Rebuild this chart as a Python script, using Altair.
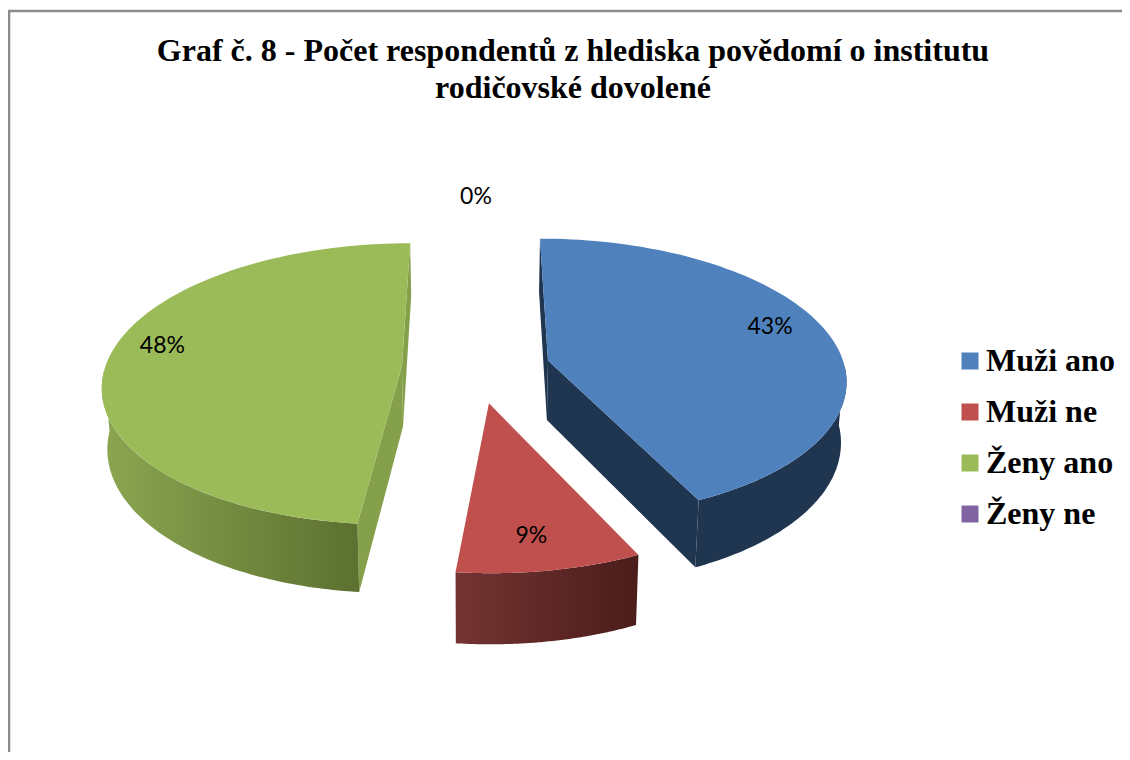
import math
import altair as alt
import pandas as pd

categories = ["Muži ano", "Muži ne", "Ženy ano", "Ženy ne"]
shares = [43, 8.6, 48.4, 0]
labels = ["43%", "9%", "48%", "0%"]
label_angles = [72, 171.5, 280, 0]
label_radii = [0.825, 0.81, 0.84, 1.206]
top_colors = ["#4f81bd", "#c0504d", "#9bbb59", "#8064a2"]
title_lines = ["Graf č. 8 - Počet respondentů z hlediska povědomí o institutu",
               "rodičovské dovolené"]

# perspective model of the tilted pie, in page pixels
X0, Y0, A, B, K, EXPLODE, DEPTH, SHRINK = 476, 368, 297, 138.9, 0.1254, 0.25, 60, 0.985
PT, PW, PH = 100, 1114, 644


def project(gx, gy, low=False):
    w = 1 + K * gy
    x, y = A * gx / w, Y0 - B * gy / w
    if low:
        return X0 + x * SHRINK, y + DEPTH / w
    return X0 + x, y


def ground(theta, radius, mid):
    t, m = math.radians(theta), math.radians(mid)
    return (radius * math.sin(t) + EXPLODE * math.sin(m),
            radius * math.cos(t) + EXPLODE * math.cos(m))


starts, ends, a = [], [], 0.0
for s in shares:
    starts.append(a)
    a += s * 3.6
    ends.append(a)
mids = [(p + q) / 2 for p, q in zip(starts, ends)]

x_scale = alt.Scale(domain=[8, 8 + PW], range=[0, PW])
y_scale = alt.Scale(domain=[8 + PT + PH, 8 + PT], range=[PH, 0])


def frame(points):
    return pd.DataFrame([{"x": x, "y": y, "i": i} for i, (x, y) in enumerate(points)])


def poly(points, fill):
    return alt.Chart(frame(points)).mark_line(
        interpolate="linear-closed", fill=fill, strokeWidth=0
    ).encode(
        x=alt.X("x:Q", scale=x_scale, axis=None),
        y=alt.Y("y:Q", scale=y_scale, axis=None),
        order="i:Q",
    )


def rim(idx, t0, t1, low=False, n=90):
    pts = []
    for j in range(n + 1):
        t = t0 + (t1 - t0) * j / n
        pts.append(project(*ground(t, 1, mids[idx]), low))
    return pts


def cut(idx, theta, fill):
    up_c = project(*ground(0, 0, mids[idx]))
    lo_c = project(*ground(0, 0, mids[idx]), True)
    up_r = project(*ground(theta, 1, mids[idx]))
    lo_r = project(*ground(theta, 1, mids[idx]), True)
    return poly([up_c, up_r, lo_r, lo_c], fill)


def wall(idx, t0, t1, fill):
    return poly(rim(idx, t0, t1) + rim(idx, t0, t1, True)[::-1], fill)


def top(idx):
    return poly([project(*ground(0, 0, mids[idx]))] + rim(idx, starts[idx], ends[idx]), top_colors[idx])


def grad(c0, c1):
    return {"gradient": "linear", "x1": 0, "x2": 1, "y1": 0, "y2": 0,
            "stops": [{"offset": 0, "color": c0}, {"offset": 1, "color": c1}]}


layers = [
    # blue
    cut(0, starts[0], "#1f3550"), cut(0, ends[0], "#1f3550"),
    wall(0, 92, ends[0], "#1f3550"), top(0),
    # red
    wall(1, starts[1], ends[1], grad("#743432", "#4a1d1b")), top(1),
    # green
    cut(2, ends[2], "#84a04a"), cut(2, starts[2], "#84a04a"),
    wall(2, starts[2], 268, grad("#8ba651", "#5c7030")), top(2),
]

# chart frame
border = alt.Chart(frame([(9, 760), (9, 11), (1130, 11)])).mark_line(
    color="#8c8c8c", strokeWidth=2.5
).encode(x=alt.X("x:Q", scale=x_scale, axis=None),
         y=alt.Y("y:Q", scale=y_scale, axis=None), order="i:Q")

# percentage labels
rows = []
for k, lab in enumerate(labels):
    lx, ly = project(*ground(label_angles[k], label_radii[k], mids[k]))
    rows.append({"x": lx, "y": ly, "label": lab})
text = alt.Chart(pd.DataFrame(rows)).mark_text(
    font="Lato", fontSize=23, color="#000000", align="center", baseline="middle"
).encode(x=alt.X("x:Q", scale=x_scale, axis=None),
         y=alt.Y("y:Q", scale=y_scale, axis=None), text="label:N")

# legend
legend_layer = alt.Chart(pd.DataFrame({"name": categories})).mark_square(size=0).encode(
    color=alt.Color(
        "name:N",
        scale=alt.Scale(domain=categories, range=top_colors),
        legend=alt.Legend(
            title=None, orient="none", legendX=946, legendY=237,
            symbolType="square", symbolSize=289, symbolStrokeWidth=0, symbolOpacity=1,
            labelFont="Liberation Serif", labelFontWeight="bold", labelFontSize=32,
            labelColor="#000000", labelLimit=300, labelOffset=0, rowPadding=19,
            padding=0, offset=0,
        ),
    )
)

chart = alt.layer(border, *layers, text, legend_layer).properties(
    width=PW, height=PH,
    padding={"left": 0, "top": PT, "right": 0, "bottom": 0},
    autosize=alt.AutoSizeParams(type="none"),
    background="#ffffff",
    title=alt.TitleParams(
        text=title_lines, font="Liberation Serif", fontWeight="bold", fontSize=32,
        lineHeight=37, color="#000000", anchor="middle", offset=0, dx=8, dy=99,
    ),
).configure_view(stroke=None)

chart.save("out.html", embed_options={"renderer": "svg", "actions": False})
